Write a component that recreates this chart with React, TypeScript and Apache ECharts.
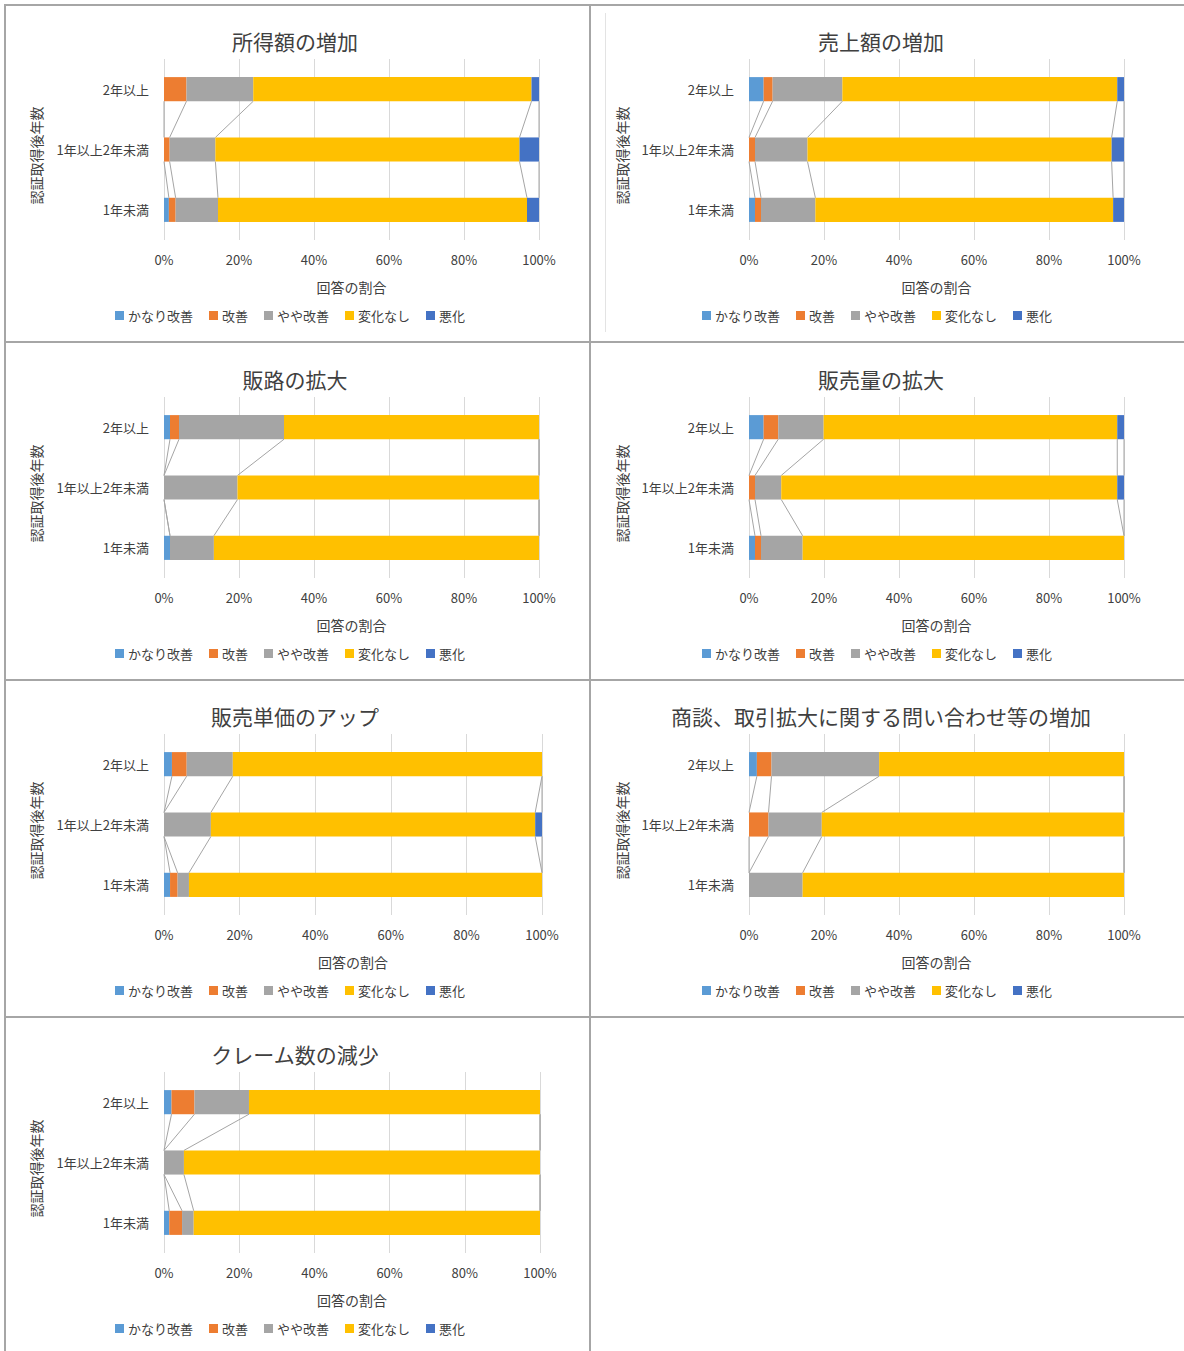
import React, { useEffect, useRef } from "react";
import * as echarts from "echarts";

const categories = ["2年以上", "1年以上2年未満", "1年未満"];
const seriesNames = ["かなり改善", "改善", "やや改善", "変化なし", "悪化"];
const seriesColors = ["#5B9BD5", "#ED7D31", "#A5A5A5", "#FFC000", "#4472C4"];
const xTickValues = [0, 20, 40, 60, 80, 100];
const yAxisName = "認証取得後年数";
const xAxisName = "回答の割合";

// rows = series (かなり改善, 改善, やや改善, 変化なし, 悪化); columns = categories
const shotokuValues = [
  [0, 0, 1.3],
  [6.0, 1.5, 1.8],
  [17.8, 12.2, 11.3],
  [74.2, 81.1, 82.4],
  [2.0, 5.2, 3.2],
];
const uriageValues = [
  [3.9, 0, 1.6],
  [2.4, 1.6, 1.6],
  [18.6, 14.0, 14.5],
  [73.3, 81.1, 79.4],
  [1.8, 3.3, 2.9],
];
const hanroValues = [
  [1.6, 0, 1.6],
  [2.4, 0, 0],
  [28.0, 19.6, 11.7],
  [68.0, 80.4, 86.7],
  [0, 0, 0],
];
const hanbairyoValues = [
  [3.9, 0, 1.6],
  [3.9, 1.6, 1.6],
  [12.1, 7.0, 11.1],
  [78.3, 89.6, 85.7],
  [1.8, 1.8, 0],
];
const tankaValues = [
  [2.1, 0, 1.6],
  [3.9, 0, 2.0],
  [12.2, 12.4, 3.0],
  [81.8, 85.8, 93.4],
  [0, 1.8, 0],
];
const shodanValues = [
  [2.1, 0, 0],
  [3.9, 5.2, 0],
  [28.7, 14.2, 14.3],
  [65.3, 80.6, 85.7],
  [0, 0, 0],
];
const claimValues = [
  [2.0, 0, 1.4],
  [6.1, 0, 3.4],
  [14.5, 5.3, 3.1],
  [77.4, 94.7, 92.1],
  [0, 0, 0],
];

const chartTitles = [
  "所得額の増加",
  "売上額の増加",
  "販路の拡大",
  "販売量の拡大",
  "販売単価のアップ",
  "商談、取引拡大に関する問い合わせ等の増加",
  "クレーム数の減少",
];
const chartValues = [
  shotokuValues,
  uriageValues,
  hanroValues,
  hanbairyoValues,
  tankaValues,
  shodanValues,
  claimValues,
];

const FONT = '"Noto Sans CJK JP", "Noto Sans", sans-serif';
const TEXT = "#404040";
const BAR_RATIO = 0.4;

type Layout = {
  left: number;
  top: number;
  width: number;
  height: number;
  gridLeft: number;
  gridRight: number;
  titleX: number;
  legendX: number;
  nameX: number;
};

function ChartCell({ title, values, layout }: { title: string; values: number[][]; layout: Layout }) {
  const ref = useRef<HTMLDivElement>(null);
  useEffect(() => {
    if (!ref.current) return;
    const chart = echarts.init(ref.current, undefined, { renderer: "svg" });
    const nCat = categories.length;
    const cum: number[][] = [];
    for (let c = 0; c < nCat; c++) {
      let s = 0;
      const row: number[] = [];
      for (let k = 0; k < values.length; k++) {
        s += values[k][c];
        row.push(s);
      }
      cum.push(row);
    }
    const lineData: number[][] = [];
    for (let c = 0; c < nCat - 1; c++) lineData.push([0, c]);

    const barSeries = seriesNames.map((name, k) => ({
      name,
      type: "bar",
      stack: "total",
      barWidth: BAR_RATIO * 100 + "%",
      itemStyle: { color: seriesColors[k] },
      data: values[k],
      silent: true,
    }));

    const seriesLines = {
      type: "custom",
      name: "series-lines",
      silent: true,
      z: 1,
      encode: { x: 0, y: 1 },
      data: lineData,
      renderItem: (params: any, api: any) => {
        const i = api.value(1);
        const band = api.size([0, 1])[1];
        const half = (band * BAR_RATIO) / 2;
        const y1 = api.coord([0, i])[1] + half;
        const y2 = api.coord([0, i + 1])[1] - half;
        const children: any[] = [];
        for (let k = 0; k < seriesNames.length; k++) {
          const x1 = api.coord([cum[i][k], i])[0];
          const x2 = api.coord([cum[i + 1][k], i + 1])[0];
          children.push({
            type: "line",
            shape: { x1, y1, x2, y2 },
            style: { stroke: "#a5a5a5", lineWidth: 1 },
          });
        }
        return { type: "group", children };
      },
    };

    chart.setOption({
      animation: false,
      textStyle: { fontFamily: FONT },
      title: {
        text: title,
        left: layout.titleX,
        top: 21,
        textAlign: "center",
        textStyle: { fontSize: 21, fontWeight: "normal", color: TEXT, fontFamily: FONT },
      },
      legend: {
        data: seriesNames,
        left: layout.legendX,
        top: 305,
        padding: 0,
        icon: "rect",
        itemWidth: 9,
        itemHeight: 9,
        itemGap: 16,
        selectedMode: false,
        textStyle: { fontSize: 13, color: TEXT, fontFamily: FONT, padding: [0, 0, 0, -1] },
      },
      grid: {
        left: layout.gridLeft,
        right: layout.gridRight,
        top: 55,
        height: 181,
        containLabel: false,
      },
      xAxis: {
        type: "value",
        min: xTickValues[0],
        max: xTickValues[xTickValues.length - 1],
        interval: xTickValues[1] - xTickValues[0],
        axisLine: { show: false },
        axisTick: { show: false },
        splitLine: { show: true, lineStyle: { color: "#d9d9d9", width: 1 } },
        axisLabel: {
          formatter: "{value}%",
          fontSize: 13,
          color: TEXT,
          margin: 13,
          fontFamily: FONT,
        },
        name: xAxisName,
        nameLocation: "middle",
        nameGap: 40,
        nameTextStyle: { fontSize: 14, color: TEXT, fontFamily: FONT },
      },
      yAxis: {
        type: "category",
        data: categories,
        inverse: true,
        axisLine: { show: false },
        axisTick: { show: false },
        axisLabel: { fontSize: 13, color: TEXT, margin: 15, fontFamily: FONT },
        name: yAxisName,
        nameLocation: "middle",
        nameRotate: 90,
        nameGap: layout.gridLeft - layout.nameX - 5,
        nameTextStyle: { fontSize: 14, color: TEXT, fontFamily: FONT, padding: [0, 12, 0, 0] },
      },
      series: [...barSeries, seriesLines],
    });
    return () => chart.dispose();
  }, [title, values, layout]);
  return (
    <div
      ref={ref}
      style={{
        position: "absolute",
        left: layout.left,
        top: layout.top,
        width: layout.width,
        height: layout.height,
      }}
    />
  );
}

const BORDER = "#a6a6a6";

export default function App() {
  const rowTop = (r: number) => Math.round(4 + r * 337.5);
  const layouts: Layout[] = chartTitles.map((_, idx) => {
    const col = idx % 2;
    const row = Math.floor(idx / 2);
    if (col === 0) {
      const rights = [51, 51, 48, 50];
      return {
        left: 0,
        top: rowTop(row),
        width: 590,
        height: 337,
        gridLeft: 164,
        gridRight: rights[row],
        titleX: 290,
        legendX: 115,
        nameX: 38,
      };
    }
    return {
      left: 590,
      top: rowTop(row),
      width: 594,
      height: 337,
      gridLeft: 159,
      gridRight: 60,
      titleX: 286,
      legendX: 112,
      nameX: 34,
    };
  });

  const hLines = [4, 341, 679, 1016];
  return (
    <div
      style={{
        position: "absolute",
        left: 0,
        top: 0,
        width: 1184,
        height: 1351,
        background: "#ffffff",
        overflow: "hidden",
      }}
    >
      {chartTitles.map((t, i) => (
        <ChartCell key={i} title={t} values={chartValues[i]} layout={layouts[i]} />
      ))}
      <div style={{ position: "absolute", left: 605, top: 13, width: 1, height: 319, background: "#e3e3e3" }} />
      {hLines.map((y, i) => (
        <div
          key={"h" + i}
          style={{ position: "absolute", left: 4, top: y, width: 1180, height: 2, background: BORDER }}
        />
      ))}
      <div style={{ position: "absolute", left: 4, top: 4, width: 2, height: 1347, background: BORDER }} />
      <div style={{ position: "absolute", left: 589, top: 4, width: 2, height: 1347, background: BORDER }} />
    </div>
  );
}
